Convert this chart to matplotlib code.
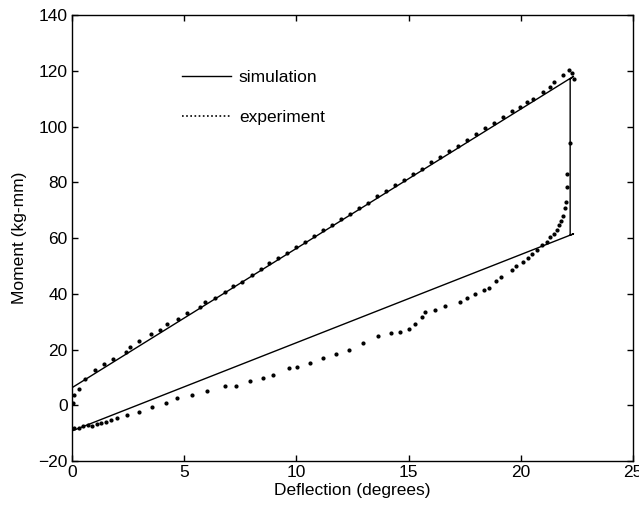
import matplotlib
matplotlib.use("Agg")
import matplotlib.pyplot as plt
from matplotlib.lines import Line2D

plt.rcParams['font.family'] = ['Liberation Sans', 'DejaVu Sans']

# Simulation path (loading line, drop, unloading line)
sim_x = [0.0, 22.35, 22.2, 22.2, 22.35, 0.0]
sim_y = [-9.2, 61.5, 61.0, 117.0, 118.0, 6.3]

# Experiment: loading branch
exp_load_x = [0.1, 0.3, 0.5, 0.7, 0.9, 1.1, 1.3, 1.5, 1.75, 2.0, 2.46, 3.0, 3.55, 4.19,
              4.69, 5.36, 6.0, 6.82, 7.3, 7.93, 8.5, 8.94, 9.68, 10.04, 10.6, 11.2, 11.76,
              12.36, 12.95, 13.65, 14.2, 14.6, 15.0, 15.3, 15.58, 15.73, 16.18, 16.6, 17.3,
              17.6, 17.96, 18.36, 18.6, 18.9, 19.1, 19.6, 19.8, 20.08, 20.3, 20.5, 20.7,
              20.95, 21.15, 21.3, 21.5, 21.6, 21.7, 21.8, 21.86, 21.97, 22.0, 22.04, 22.07,
              22.2, 22.38, 22.3, 22.15]
exp_load_y = [-8.0, -8.3, -7.6, -7.0, -7.3, -6.6, -6.2, -5.9, -5.2, -4.4, -3.6, -2.4, -0.8, 0.8,
              2.5, 3.6, 5.1, 6.8, 6.8, 8.6, 9.9, 11.0, 13.4, 13.9, 15.2, 17.1, 18.3,
              20.0, 22.4, 24.9, 25.8, 26.3, 27.5, 29.0, 31.7, 33.5, 34.3, 35.5, 37.1,
              38.6, 39.8, 41.5, 42.2, 44.5, 46.0, 48.4, 49.9, 51.4, 53.0, 54.2, 55.6,
              57.4, 58.6, 60.2, 61.6, 63.0, 64.6, 66.1, 67.8, 70.6, 72.9, 78.3, 83.0,
              94.0, 117.2, 119.2, 120.3]

# Experiment: unloading branch
exp_unload_x = [21.9, 21.5, 21.3, 21.0, 20.56, 20.26, 19.96, 19.6, 19.2, 18.8, 18.4, 18.0,
                17.6, 17.2, 16.8, 16.4, 16.0, 15.6, 15.2, 14.8, 14.4, 14.0, 13.6, 13.2,
                12.8, 12.4, 12.0, 11.6, 11.2, 10.8, 10.4, 10.0, 9.6, 9.2, 8.8, 8.4, 8.0,
                7.56, 7.19, 6.82, 6.37, 5.93, 5.7, 5.14, 4.74, 4.25, 3.92, 3.5, 3.0, 2.58,
                2.4, 1.84, 1.43, 1.02, 0.6, 0.3, 0.1, 0.05]
exp_unload_y = [118.4, 116.0, 114.2, 112.4, 110.0, 108.8, 107.0, 105.5, 103.3, 101.2, 99.4, 97.2,
                95.3, 93.0, 91.2, 89.0, 87.1, 84.9, 83.0, 80.8, 78.9, 76.8, 74.9, 72.7,
                70.9, 68.7, 66.8, 64.7, 62.9, 60.8, 58.7, 56.8, 54.7, 52.9, 50.9, 48.8, 46.7,
                44.2, 42.7, 40.7, 38.6, 37.1, 35.3, 33.2, 31.1, 29.3, 27.1, 25.7, 23.0, 20.9,
                19.1, 16.7, 14.7, 12.6, 9.5, 6.0, 3.6, 0.7]

x_ticks = [0, 5, 10, 15, 20, 25]
y_ticks = [-20, 0, 20, 40, 60, 80, 100, 120, 140]

fig = plt.figure(figsize=(6.39, 5.14), dpi=100)
ax = fig.add_axes([0.1127, 0.1031, 0.8779, 0.8677])

ax.plot(sim_x, sim_y, color='black', linewidth=1.0)
ax.plot(exp_load_x, exp_load_y, linestyle='none', marker='o', markersize=2.0, color='black')
ax.plot(exp_unload_x, exp_unload_y, linestyle='none', marker='o', markersize=2.0, color='black')

ax.set_xlim(0, 25)
ax.set_ylim(-20, 140)
ax.set_xticks(x_ticks)
ax.set_yticks(y_ticks)
ax.tick_params(direction='in', top=True, right=True, length=4, width=1.0,
               labelsize=12.5, pad=3)
for s in ax.spines.values():
    s.set_linewidth(1.0)

ax.set_xlabel('Deflection (degrees)', fontsize=12.5, labelpad=2)
ax.set_ylabel('Moment (kg-mm)', fontsize=12.5, labelpad=8)

handles = [Line2D([], [], color='black', linewidth=1.0),
           Line2D([], [], color='black', linewidth=1.2, linestyle=(0, (1, 1.5)))]
ax.legend(handles, ['simulation', 'experiment'], loc='upper left',
          bbox_to_anchor=(0.169, 0.913), frameon=False, handlelength=2.8,
          handletextpad=0.45, labelspacing=1.45, fontsize=12.5)

fig.savefig('out.png', dpi=100)
